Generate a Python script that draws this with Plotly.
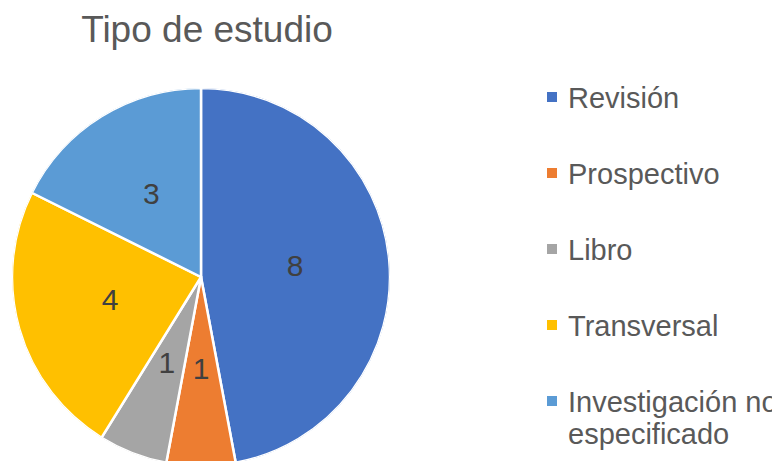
import plotly.graph_objects as go

categories = ["Revisión", "Prospectivo", "Libro", "Transversal", "Investigación no especificado"]
legend_lines = [["Revisión"], ["Prospectivo"], ["Libro"], ["Transversal"], ["Investigación no", "especificado"]]
values = [8, 1, 1, 4, 3]
colors = ["#4472C4", "#ED7D31", "#A5A5A5", "#FFC000", "#5B9BD5"]

W, H = 780, 461
OFF = 8  # page body margin
cx, cy, r = 201 - OFF, 277 - OFF, 189
FONT = "Liberation Sans, Arial"

dom = dict(x=[(cx - r) / W, (cx + r) / W], y=[1 - (cy + r) / H, 1 - (cy - r) / H])

total = sum(values)
widths = [v / total * 360 for v in values]
mid_theta = []
acc = 0
for v in values:
    mid_theta.append((acc + v / 2) / total * 360)
    acc += v

fig = go.Figure()
# pie slices drawn as wedges on a polar scale
fig.add_trace(go.Barpolar(
    r=[1] * len(values), theta=mid_theta, width=widths, base=0,
    marker=dict(color=colors, line=dict(color="white", width=2.5)),
    customdata=values, text=categories,
    hovertemplate="%{text}: %{customdata}<extra></extra>",
    showlegend=False,
))
# data labels
fig.add_trace(go.Scatterpolar(
    r=[0.5] * len(values), theta=mid_theta, mode="text",
    text=[str(v) for v in values], textposition="middle center",
    textfont=dict(family=FONT, size=30, color="#404040"),
    showlegend=False, hoverinfo="skip",
))

shapes = []
annotations = []
for i, (lines, col) in enumerate(zip(legend_lines, colors)):
    yc = 97 - OFF + 76 * i
    shapes.append(dict(type="rect", xref="paper", yref="paper",
                       x0=(547 - OFF) / W, x1=(557 - OFF) / W,
                       y0=1 - (yc + 5) / H, y1=1 - (yc - 5) / H,
                       fillcolor=col, line=dict(width=0)))
    for j, line in enumerate(lines):
        annotations.append(dict(xref="paper", yref="paper", x=(566 - OFF) / W,
                                y=1 - (yc - 17.5 + 32 * j) / H, xanchor="left", yanchor="top",
                                text=line, showarrow=False, align="left",
                                font=dict(family=FONT, size=29, color="#595959")))

fig.update_layout(
    width=W, height=H,
    margin=dict(l=0, r=0, t=0, b=0),
    paper_bgcolor="white", plot_bgcolor="white",
    polar=dict(domain=dom, bgcolor="rgba(0,0,0,0)", bargap=0, hole=0,
               radialaxis=dict(visible=False, range=[0, 1], showgrid=False),
               angularaxis=dict(visible=False, rotation=90, direction="clockwise",
                                showgrid=False)),
    title=dict(text="Tipo de estudio", x=(207 - OFF) / W, xanchor="center",
               y=1 - 21 / H, yanchor="middle",
               font=dict(family=FONT, size=37, color="#595959")),
    shapes=shapes,
    annotations=annotations,
)

fig.write_html("out.html")
